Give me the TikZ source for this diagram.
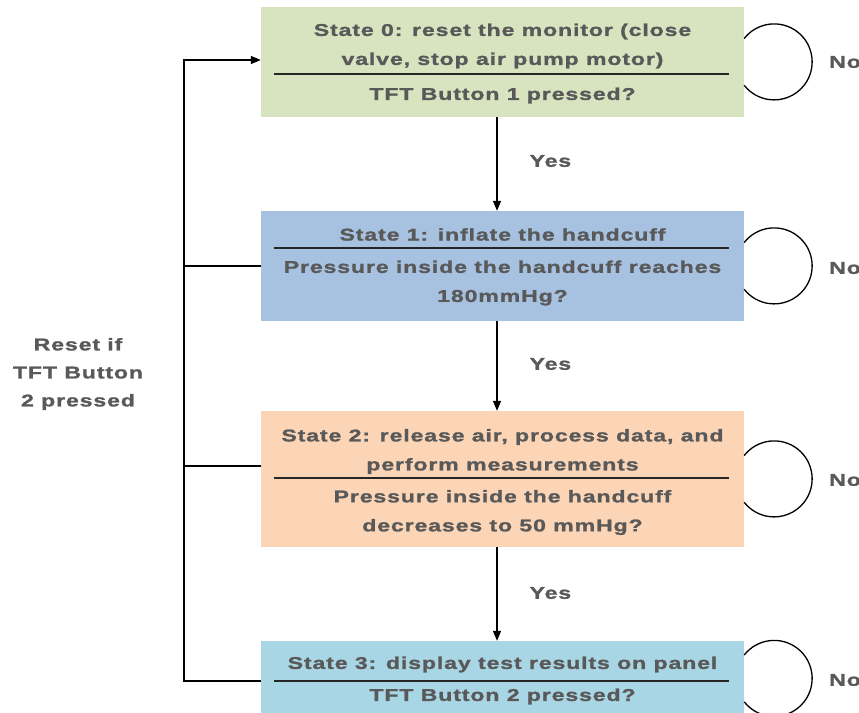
\documentclass[tikz,border=0pt]{standalone}
\usepackage{fontspec}
\usetikzlibrary{arrows.meta}
\newfontfamily\lab[FakeStretch=1.36,LetterSpace=5,FakeBold=1.3]{Liberation Sans}
\definecolor{cgreen}{HTML}{D8E4C0}
\definecolor{cblue}{HTML}{A7C1E0}
\definecolor{cpeach}{HTML}{FBD5B6}
\definecolor{ccyan}{HTML}{A9D6E4}
\definecolor{textgray}{HTML}{595959}
\tikzset{
  box/.style={rectangle, draw=none, minimum width=483pt, inner sep=0pt},
  txt/.style={font=\lab\bfseries\fontsize{17}{29}\selectfont, text=textgray, align=center, inner sep=0pt},
  divider/.style={line width=1.2pt, draw=black!85},
  conn/.style={line width=1.2pt, draw=black},
  arr/.style={conn, -{Triangle[length=10pt,width=8pt]}},
  loopline/.style={line width=1.3pt, draw=black},
}
\begin{document}
\begin{tikzpicture}[x=1pt,y=1pt]
\useasboundingbox (0,0) rectangle (859,-712);
% boxes
\node[box, fill=cgreen, minimum height=110pt] (s0) at (502.5,-62) {};
\node[box, fill=cblue,  minimum height=110pt] (s1) at (502.5,-266) {};
\node[box, fill=cpeach, minimum height=136pt] (s2) at (502.5,-479) {};
\node[box, fill=ccyan,  minimum height=75pt]  (s3) at (502.5,-678.5) {};
% texts
\node[txt] (s0a) at (502.5,-46) {State 0: reset the monitor (close\\valve, stop air pump motor)};
\node[txt] (s0b) at (502.5,-95.5) {TFT Button 1 pressed?};
\node[txt] (s1a) at (502.5,-234.5) {State 1: inflate the handcuff};
\node[txt] (s1b) at (502.5,-283) {Pressure inside the handcuff reaches\\180mmHg?};
\node[txt] (s2a) at (502.5,-451.5) {State 2: release air, process data, and\\perform measurements};
\node[txt] (s2b) at (502.5,-512.5) {Pressure inside the handcuff\\decreases to 50 mmHg?};
\node[txt] (s3a) at (502.5,-664.5) {State 3: display test results on panel};
\node[txt] (s3b) at (502.5,-696.5) {TFT Button 2 pressed?};
% dividers
\draw[divider] ([xshift=13pt]s0.west |- 0,-74) -- ([xshift=-15pt]s0.east |- 0,-74);
\draw[divider] ([xshift=13pt]s1.west |- 0,-248) -- ([xshift=-15pt]s1.east |- 0,-248);
\draw[divider] ([xshift=13pt]s2.west |- 0,-478) -- ([xshift=-15pt]s2.east |- 0,-478);
\draw[divider] ([xshift=13pt]s3.west |- 0,-681) -- ([xshift=-15pt]s3.east |- 0,-681);
% forward arrows
\draw[arr] ([xshift=-5.5pt]s0.south) -- node[txt, right, xshift=32pt, yshift=3pt] (y0) {Yes} ([xshift=-5.5pt]s1.north);
\draw[arr] ([xshift=-5.5pt]s1.south) -- node[txt, right, xshift=32pt, yshift=2pt] (y1) {Yes} ([xshift=-5.5pt]s2.north);
\draw[arr] ([xshift=-5.5pt]s2.south) -- node[txt, right, xshift=32pt, yshift=1pt] (y2) {Yes} ([xshift=-5.5pt]s3.north);
% self loops
\draw[loopline] ([yshift=23.5pt]s0.east) arc[start angle=142, end angle=-142, radius=38pt];
\draw[loopline] ([yshift=23.5pt]s1.east) arc[start angle=142, end angle=-142, radius=38pt];
\draw[loopline] ([yshift=23.5pt]s2.east) arc[start angle=142, end angle=-142, radius=38pt];
\draw[loopline] ([yshift=23.5pt]s3.east) arc[start angle=142, end angle=-142, radius=38pt];
\node[txt, anchor=west] (n0) at (829,-62) {No};
\node[txt, anchor=west] (n1) at (829,-268) {No};
\node[txt, anchor=west] (n2) at (829,-480) {No};
\node[txt, anchor=west] (n3) at (829,-680) {No};
% reset rail
\coordinate (railtop) at (184,-60);
\draw[arr] ([yshift=-2.5pt]s3.west) -| (railtop) -- (railtop -| s0.west);
\draw[conn] (s1.west) -- (s1.west -| railtop);
\draw[conn] ([yshift=13pt]s2.west) -- ([yshift=13pt]s2.west -| railtop);
\node[txt, font=\lab\bfseries\fontsize{17}{28}\selectfont] (reset) at (78,-374) {Reset if\\TFT Button\\2 pressed};
\end{tikzpicture}
\end{document}
